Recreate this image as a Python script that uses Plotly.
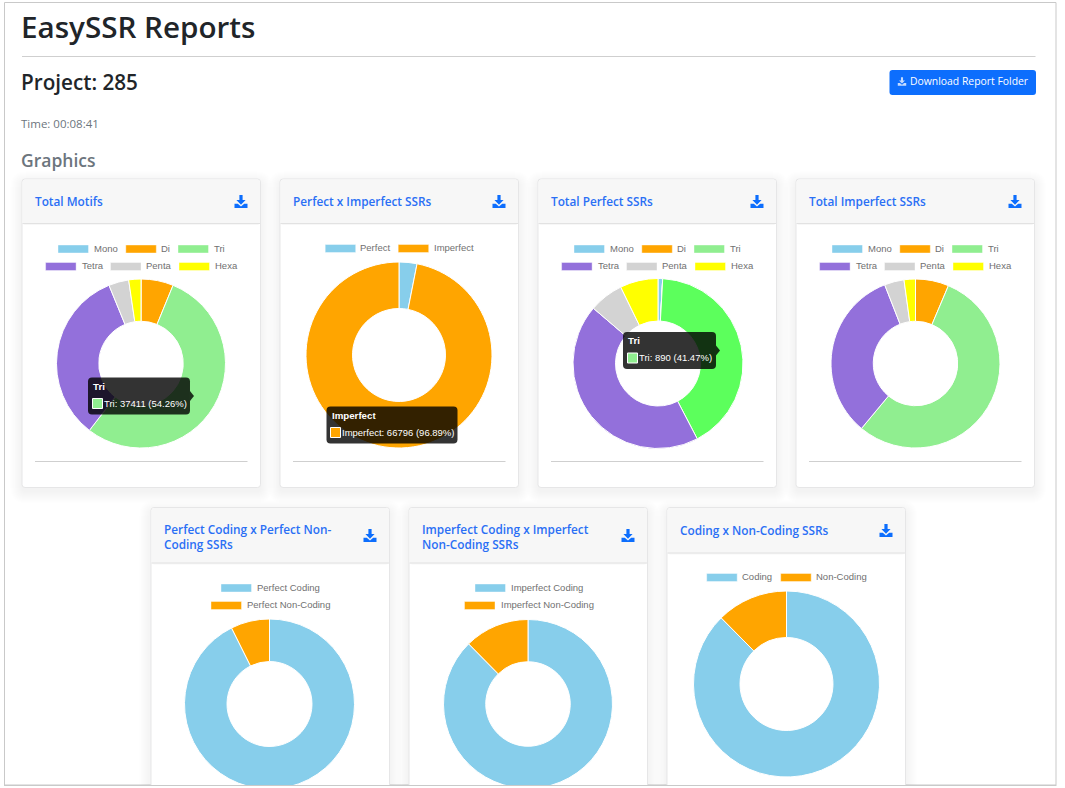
import plotly.graph_objects as go

W, H = 1065, 820

motif_labels = ["Mono", "Di", "Tri", "Tetra", "Penta", "Hexa"]
motif_colors = ["#87CEEB", "#FFA500", "#90EE90", "#9370DB", "#D3D3D3", "#FFFF00"]
total_motifs = [22, 4250, 37411, 23000, 2650, 1609]
perfect_motifs = [19, 0, 890, 942, 140, 155]
imperfect_motifs = [3, 4250, 36521, 22058, 2510, 1454]
perfect_colors = ["#87CEEB", "#FFA500", "#5CFF5C", "#9370DB", "#D3D3D3", "#FFFF00"]

pair_colors = ["#87CEEB", "#FFA500"]
perf_imperf_labels = ["Perfect", "Imperfect"]
perf_imperf = [2146, 66796]
perf_coding_labels = ["Perfect Coding", "Perfect Non-Coding"]
perf_coding = [1988, 158]
imperf_coding_labels = ["Imperfect Coding", "Imperfect Non-Coding"]
imperf_coding = [58516, 8280]
coding_labels = ["Coding", "Non-Coding"]
coding = [60393, 8549]

BLUE = "#0D6EFD"
LINK = "#2A6FF5"
DARK = "#212529"
GRAY = "#6C757D"
SANS = "Open Sans"
ARIAL = "Liberation Sans"


def px(x):
    return x / W


def py(y):
    return 1 - y / H


shapes = []
annots = []


def rect(x0, y0, x1, y1, fill=None, line=None, lw=1, opacity=1):
    shapes.append(dict(type="rect", xref="paper", yref="paper", layer="above",
                       x0=px(x0), x1=px(x1), y0=py(y0), y1=py(y1),
                       fillcolor=fill or "rgba(0,0,0,0)", opacity=opacity,
                       line=dict(color=line or "rgba(0,0,0,0)", width=lw if line else 0)))


def rr_path(x0, y0, x1, y1, r):
    c = lambda x, y: f"{px(x):.5f},{py(y):.5f}"
    return (f"M{c(x0 + r, y0)} L{c(x1 - r, y0)} Q{c(x1, y0)} {c(x1, y0 + r)} "
            f"L{c(x1, y1 - r)} Q{c(x1, y1)} {c(x1 - r, y1)} L{c(x0 + r, y1)} "
            f"Q{c(x0, y1)} {c(x0, y1 - r)} L{c(x0, y0 + r)} Q{c(x0, y0)} {c(x0 + r, y0)} Z")


def rrect(x0, y0, x1, y1, r, fill, line=None, opacity=1, layer="below"):
    shapes.append(dict(type="path", xref="paper", yref="paper", layer=layer,
                       path=rr_path(x0, y0, x1, y1, r), fillcolor=fill, opacity=opacity,
                       line=dict(color=line or "rgba(0,0,0,0)", width=1 if line else 0)))


def poly(points, fill, layer="above"):
    p = "M" + " L".join(f"{px(x):.5f},{py(y):.5f}" for x, y in points) + " Z"
    shapes.append(dict(type="path", xref="paper", yref="paper", layer=layer, path=p,
                       fillcolor=fill, line=dict(width=0)))


def text(x, y, s, size, color, family=SANS, weight=400, anchor="left"):
    annots.append(dict(x=px(x), y=py(y), xref="paper", yref="paper", text=s, showarrow=False,
                       xanchor=anchor, yanchor="middle", align="left", borderpad=0, borderwidth=0,
                       font=dict(size=size, color=color, family=family, weight=weight)))


def icon(cx, cy, color=BLUE, s=1.0):
    poly([(cx - 1.6 * s, cy - 6.5 * s), (cx + 1.6 * s, cy - 6.5 * s), (cx + 1.6 * s, cy - 1.5 * s),
          (cx + 4.6 * s, cy - 1.5 * s), (cx, cy + 3.2 * s), (cx - 4.6 * s, cy - 1.5 * s),
          (cx - 1.6 * s, cy - 1.5 * s)], color)
    poly([(cx - 6.5 * s, cy + 2.2 * s), (cx - 3.2 * s, cy + 2.2 * s), (cx, cy + 5 * s),
          (cx + 3.2 * s, cy + 2.2 * s), (cx + 6.5 * s, cy + 2.2 * s), (cx + 6.5 * s, cy + 6.5 * s),
          (cx - 6.5 * s, cy + 6.5 * s)], color)


def card(x0, y0, x1, y1, header_bottom, title_lines, divider=None):
    for i in range(1, 13):
        rrect(x0 - i, y0 - i + 4, x1 + i, y1 + i + 4, 4 + i, "#000000", opacity=0.004)
    rrect(x0, y0, x1, y1, 3, "#FFFFFF", line="#E6E6E7")
    shapes.append(dict(type="path", xref="paper", yref="paper", layer="below",
                       path=rr_path(x0 + .5, y0 + .5, x1 - .5, header_bottom + 2, 3), fillcolor="#F7F7F7",
                       line=dict(width=0)))
    rect(x0 + .5, header_bottom - 2, x1 - .5, header_bottom, fill="#F7F7F7")
    rect(x0 + .5, header_bottom, x1 - .5, header_bottom + 1, fill="#E2E2E2")
    cy = (y0 + header_bottom) / 2
    n = len(title_lines)
    for i, t in enumerate(title_lines):
        off = 1 if n > 1 else 0
        text(x0 + 12.7, cy - 7.5 * (n - 1) + 15 * i + off, t, 11.8, LINK, weight=600)
    icon(x1 - 19.5, cy + 0.5)
    if divider:
        rect(x0 + 13, divider, x1 - 13, divider + 1, fill="#CFCFCF")


def legend(items, y):
    for sx, tx, color, label in items:
        rect(sx, y - 4, sx + 30.5, y + 4, fill=color, line="rgba(255,255,255,0.8)", lw=0.5)
        text(tx, y - 1, label, 9.5, "#707070", family=ARIAL)


def motif_legend(left):
    row1 = [(36, 71.5, 0), (103.8, 139, 1), (156, 191.7, 2)]
    row2 = [(23.6, 59.8, 3), (88.5, 124, 4), (157, 193, 5)]
    for row, y in ((row1, 249), (row2, 266.5)):
        legend([(left + a, left + b, motif_colors[i], motif_labels[i]) for a, b, i in row], y)


def tooltip(x0, y0, x1, y1, tip, title, color, label, sw_x, tx):
    # dark box with its small pointer
    rrect(x0, y0, x1, y1, 4, "rgba(0,0,0,0.8)", layer="above")
    if tip:
        tipx, tipy = tip
        poly([(x1, tipy - 5), (tipx, tipy), (x1, tipy + 5)], "rgba(0,0,0,0.8)")
    text(x0 + 5, y0 + 9, title, 9.7, "#FFFFFF", family=ARIAL, weight=700)
    rect(sw_x, y0 + 21, sw_x + 10, y0 + 31, fill=color, line="#FFFFFF", lw=1)
    text(tx, y0 + 26, label, 9.5, "#FFFFFF", family=ARIAL)


def pie(cx, cy, r, labels, values, colors):
    return go.Pie(labels=labels, values=values, sort=False, direction="clockwise", rotation=0,
                  hole=0.5, textinfo="none", showlegend=False,
                  marker=dict(colors=colors, line=dict(color="#FFFFFF", width=1)),
                  domain=dict(x=[px(cx - r), px(cx + r)], y=[py(cy + r), py(cy - r)]))


# ---- page chrome
rect(4.5, 2.5, 1056, 785, line="#C9C9C9", lw=1, fill="#FFFFFF")
shapes[-1]["layer"] = "below"
text(21, 26.5, "EasySSR Reports", 29.6, DARK, weight=600)
rect(22, 56, 1035.5, 57, fill="#CFCFCF")
text(21, 82.5, "Project: 285", 20.7, DARK, weight=600)
rrect(889.5, 70, 1036, 95, 3, BLUE)
icon(902, 81.5, "#C5DBFF", 0.65)
text(910, 81.5, "Download Report Folder", 10.4, "#FFFFFF", family=SANS)
text(21, 123.5, "Time: 00:08:41", 11.5, GRAY)
text(21, 160, "Graphics", 17.5, GRAY, weight=600)

# ---- top row cards
lefts = [22, 280, 538, 796]
card_titles = [["Total Motifs"], ["Perfect x Imperfect SSRs"], ["Total Perfect SSRs"], ["Total Imperfect SSRs"]]
for left, ttl in zip(lefts, card_titles):
    card(left, 179, left + 238.5, 487.5, 223, ttl, divider=461)

# ---- bottom row cards (clipped by the frame)
card(151, 507.5, 389.5, 830, 562.5, ["Perfect Coding x Perfect Non-", "Coding SSRs"])
card(409, 507.5, 647.5, 830, 562.5, ["Imperfect Coding x Imperfect", "Non-Coding SSRs"])
card(667, 507.5, 905.5, 830, 552.5, ["Coding x Non-Coding SSRs"])

# ---- legends
motif_legend(22)
motif_legend(538)
motif_legend(796)
legend([(325.2, 360.4, pair_colors[0], perf_imperf_labels[0]),
        (398.2, 434, pair_colors[1], perf_imperf_labels[1])], 248.5)
legend([(221, 257, pair_colors[0], perf_coding_labels[0])], 588)
legend([(211, 247, pair_colors[1], perf_coding_labels[1])], 605.5)
legend([(475, 510.5, pair_colors[0], imperf_coding_labels[0])], 588)
legend([(464.5, 500.5, pair_colors[1], imperf_coding_labels[1])], 605.5)
legend([(706.7, 742.3, pair_colors[0], coding_labels[0]),
        (780.7, 816, pair_colors[1], coding_labels[1])], 577.5)

# ---- pies
traces = [
    pie(141, 363.5, 84.5, motif_labels, total_motifs, motif_colors),
    pie(399, 355, 93, perf_imperf_labels, perf_imperf, pair_colors),
    pie(658, 363.5, 85, motif_labels, perfect_motifs, perfect_colors),
    pie(915.5, 363.5, 84.5, motif_labels, imperfect_motifs, motif_colors),
    pie(269.5, 704, 85, perf_coding_labels, perf_coding, pair_colors),
    pie(528, 704, 84.5, imperf_coding_labels, imperf_coding, pair_colors),
    pie(786.5, 684, 93, coding_labels, coding, pair_colors),
]

# ---- tooltips
tooltip(88, 377.5, 190, 414.5, (194, 396), "Tri", motif_colors[2], "Tri: 37411 (54.26%)", 92.5, 104)
tooltip(326.5, 406.5, 457.5, 443.5, None, "Imperfect", motif_colors[1], "Imperfect: 66796 (96.89%)", 330.5, 341.5)
tooltip(623, 332, 716, 369, (720, 350.5), "Tri", motif_colors[2], "Tri: 890 (41.47%)", 627.5, 639)

# ---- anything below the frame stays blank
rect(0, 785.5, W, H, fill="#FFFFFF")
rect(4, 785, 1056.5, 786, fill="#C9C9C9")

fig = go.Figure(traces)
fig.update_layout(width=W, height=H, autosize=False, margin=dict(l=0, r=0, t=0, b=0),
                  paper_bgcolor="#FFFFFF", plot_bgcolor="#FFFFFF", shapes=shapes, annotations=annots,
                  showlegend=False, font=dict(family=SANS))
fig.write_html("out.html", config=dict(displayModeBar=False),
               post_script="document.body.style.margin='0';document.body.style.overflow='hidden';"
                           "document.documentElement.style.overflow='hidden';")
